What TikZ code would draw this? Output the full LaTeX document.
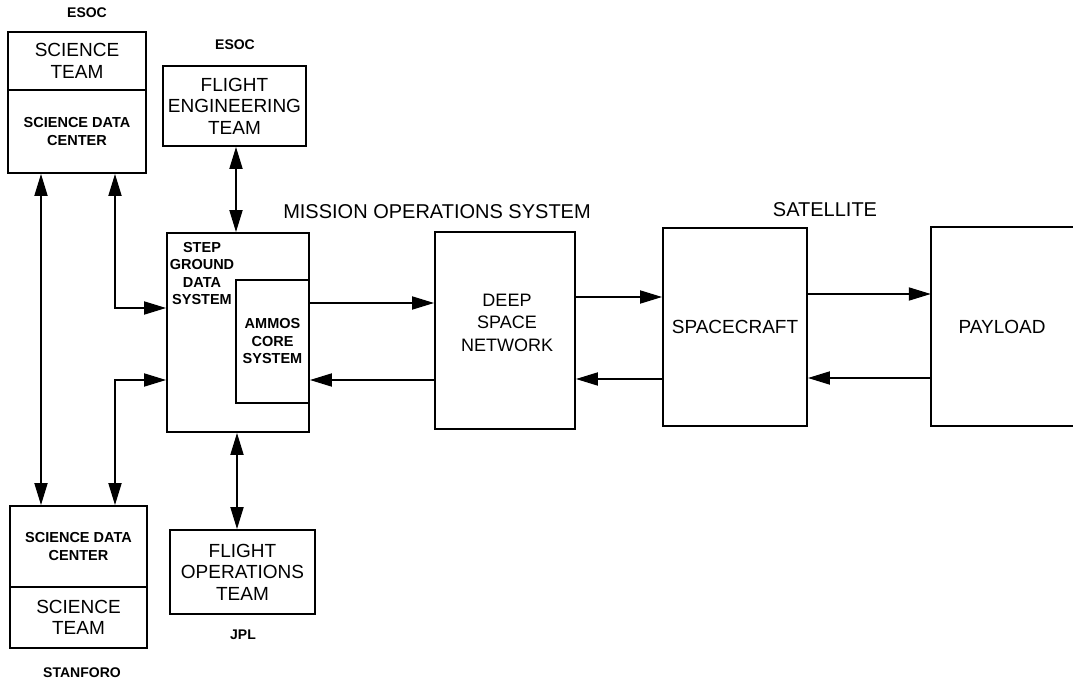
\documentclass[tikz,border=0pt]{standalone}
\usepackage{fontspec}
\setmainfont{Liberation Sans}
\usetikzlibrary{arrows.meta}
\begin{document}
\begin{tikzpicture}[x=1pt,y=-1pt,
  box/.style={draw, line width=1.8pt, rectangle, inner sep=0pt, align=center},
  big/.style={font=\fontsize{19}{21.5}\selectfont},
  small/.style={font=\fontsize{14.5}{17.5}\selectfont\bfseries},
  tag/.style={font=\fontsize{14}{16}\selectfont\bfseries},
  title/.style={font=\fontsize{20}{22}\selectfont},
  conn/.style={line width=1.8pt},
  tip/.tip={Triangle[length=22pt,width=13pt]}
]
\useasboundingbox (0,0) rectangle (1073,679);

% top-left (ESOC) science team / science data center
\node[box, big, minimum width=138pt, minimum height=58pt] (tlst) at (77,61) {SCIENCE\\TEAM};
\node[box, small, minimum width=138pt, minimum height=83pt] (tlsdc) at (77,131.5) {SCIENCE DATA\\CENTER};
\node[tag] (esoc1) at (87,13) {ESOC};

% flight engineering team
\node[box, big, minimum width=143pt, minimum height=80pt] (fet) at (234.5,106) {FLIGHT\\ENGINEERING\\TEAM};
\node[tag] (esoc2) at (235,45) {ESOC};

% bottom-left (Stanford)
\node[box, small, minimum width=137pt, minimum height=81pt] (blsdc) at (78.5,546.5) {SCIENCE DATA\\CENTER};
\node[box, big, minimum width=137pt, minimum height=61pt] (blst) at (78.5,617.5) {SCIENCE\\TEAM};
\node[tag] (stanford) at (82,673) {STANFORO};

% flight operations team
\node[box, big, minimum width=145pt, minimum height=84pt] (fot) at (242.5,572) {FLIGHT\\OPERATIONS\\TEAM};
\node[tag] (jpl) at (243,635) {JPL};

% step ground data system
\node[box, minimum width=142pt, minimum height=199pt] (sgds) at (238,332.5) {};
\node[small, align=center] (sgdstext) at (202,273.5) {STEP\\GROUND\\DATA\\SYSTEM};
\node[box, small, minimum width=73pt, minimum height=123pt] (ammos) at (272.5,341.5) {AMMOS\\CORE\\SYSTEM};

% deep space network
\node[box, minimum width=140pt, minimum height=197pt] (dsn) at (505,330.5) {};
\node[font=\fontsize{18}{22.5}\selectfont, align=center] (dsntext) at (507,322.5) {DEEP\\SPACE\\NETWORK};

% spacecraft
\node[box, big, minimum width=144pt, minimum height=198pt] (sc) at (735,327) {SPACECRAFT};

% payload (open to the right edge)
\node[big, minimum width=142pt, minimum height=199pt, inner sep=0pt] (payload) at (1002,326.5) {PAYLOAD};
\draw[line width=1.8pt] (payload.north east) -- (payload.north west) -- (payload.south west) -- (payload.south east);

% titles
\node[title] (mos) at (437,212) {MISSION OPERATIONS SYSTEM};
\node[title] (sat) at (825,210) {SATELLITE};

% connectors on the left
\draw[conn, {tip}-{tip}] (tlsdc.south -| 41,0) -- (blsdc.north -| 41,0);
\draw[conn, {tip}-{tip}] (tlsdc.south -| 115,0) -- (115,308) -- (sgds.west |- 0,308);
\draw[conn, {tip}-{tip}] (blsdc.north -| 115,0) -- (115,380) -- (sgds.west |- 0,380);
\draw[conn, {tip}-{tip}] (fet.south -| 236,0) -- (sgds.north -| 236,0);
\draw[conn, {tip}-{tip}] (sgds.south -| 237,0) -- (fot.north -| 237,0);

% connectors to the right
\draw[conn, -{tip}] (ammos.east |- 0,303) -- (dsn.west |- 0,303);
\draw[conn, -{tip}] (dsn.west |- 0,380) -- (ammos.east |- 0,380);
\draw[conn, -{tip}] (dsn.east |- 0,297) -- (sc.west |- 0,297);
\draw[conn, -{tip}] (sc.west |- 0,379) -- (dsn.east |- 0,379);
\draw[conn, -{tip}] (sc.east |- 0,294) -- (payload.west |- 0,294);
\draw[conn, -{tip}] (payload.west |- 0,378) -- (sc.east |- 0,378);
\end{tikzpicture}
\end{document}
